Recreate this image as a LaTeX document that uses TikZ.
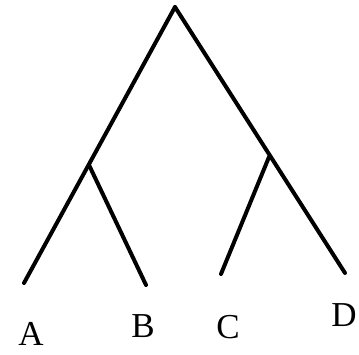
\documentclass[tikz,border=0pt]{standalone}
\usepackage{fontspec}
\setmainfont{Liberation Serif}
\usetikzlibrary{positioning}

\begin{document}
\begin{tikzpicture}[
  x=1pt, y=-1pt,
  branch/.style={line width=4pt, line cap=round, draw=black},
  leaf/.style={font=\fontsize{35}{38}\selectfont, inner sep=0pt}]
\useasboundingbox (0,0) rectangle (359,354);
% tree points
\coordinate (root) at (175,7);
\coordinate (ab) at (89,165);
\coordinate (cd) at (269,157);
\coordinate (a) at (24,283);
\coordinate (b) at (146,285);
\coordinate (c) at (221,274);
\coordinate (d) at (345,273);
% leaf labels
\node[leaf] (la) at (31,334) {A};
\node[leaf] (lb) at (143,326) {B};
\node[leaf] (lc) at (228,327) {C};
\node[leaf] (ld) at (344,315) {D};
% branches
\draw[branch] (root) -- (a);
\draw[branch] (root) -- (d);
\draw[branch] (ab) -- (b);
\draw[branch] (cd) -- (c);
\end{tikzpicture}
\end{document}
